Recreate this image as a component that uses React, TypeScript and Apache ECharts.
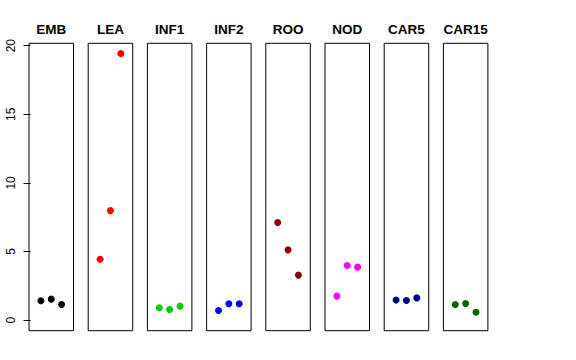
import React, { useEffect, useRef } from "react";
import * as echarts from "echarts";

const categories = ["EMB", "LEA", "INF1", "INF2", "ROO", "NOD", "CAR5", "CAR15"];
const colors = ["#000000", "#FF0000", "#00CD00", "#0000FF", "#8B0000", "#FF00FF", "#00008B", "#006400"];
const values: number[][] = [
  [1.41, 1.53, 1.14],
  [4.44, 7.98, 19.42],
  [0.9, 0.77, 1.02],
  [0.7, 1.19, 1.19],
  [7.11, 5.12, 3.28],
  [1.75, 3.98, 3.86],
  [1.46, 1.43, 1.62],
  [1.14, 1.21, 0.58],
];
const yTicks = [0, 5, 10, 15, 20];

export default function App() {
  const ref = useRef<HTMLDivElement>(null);
  useEffect(() => {
    if (!ref.current) return;
    const chart = echarts.init(ref.current, null, { renderer: "svg" });
    const font = "Liberation Sans, Arial, Helvetica, sans-serif";
    const grids: any[] = [];
    const xAxes: any[] = [];
    const yAxes: any[] = [];
    const series: any[] = [];
    categories.forEach((cat, i) => {
      grids.push({
        left: 29 + i * 59.2,
        top: 43.3,
        width: 44.5,
        height: 287.4,
        show: true,
        borderColor: "#000",
        borderWidth: 1,
        backgroundColor: "transparent",
        containLabel: false,
      });
      xAxes.push({
        type: "value",
        gridIndex: i,
        min: -0.15,
        max: 4.15,
        position: "top",
        name: cat,
        nameLocation: "middle",
        nameGap: 7,
        nameTextStyle: { fontFamily: font, fontWeight: "bold", fontSize: 13.5, color: "#000" },
        axisLine: { show: false },
        axisTick: { show: false },
        axisLabel: { show: false },
        splitLine: { show: false },
      });
      yAxes.push({
        type: "value",
        gridIndex: i,
        min: -0.77,
        max: 20.17,
        axisLine: { show: false },
        axisTick: i === 0
          ? { show: true, length: 7, inside: false, lineStyle: { color: "#000" }, customValues: yTicks }
          : { show: false },
        axisLabel: i === 0
          ? { show: true, rotate: 90, margin: 12, fontFamily: font, fontSize: 12, color: "#000", customValues: yTicks }
          : { show: false },
        splitLine: { show: false },
      });
      series.push({
        type: "scatter",
        xAxisIndex: i,
        yAxisIndex: i,
        symbol: "circle",
        symbolSize: 7,
        itemStyle: { color: colors[i], opacity: 1 },
        data: values[i].map((v, j) => [j + 1, v]),
      });
    });
    chart.setOption({
      animation: false,
      backgroundColor: "#fff",
      grid: grids,
      xAxis: xAxes,
      yAxis: yAxes,
      series,
    });
    return () => chart.dispose();
  }, []);
  return (
    <div
      ref={ref}
      style={{ position: "fixed", left: 0, top: 0, width: 576, height: 360 }}
    />
  );
}
